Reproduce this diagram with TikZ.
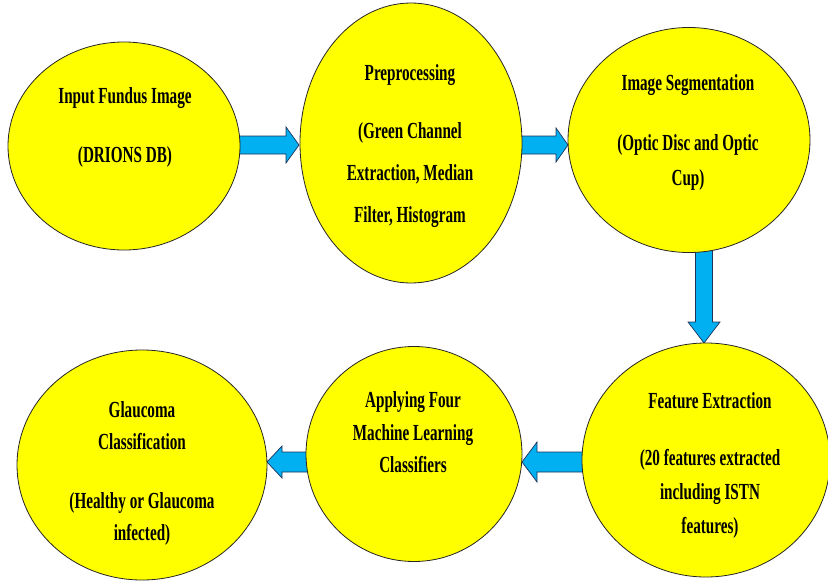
\documentclass[tikz,border=0pt]{standalone}
\usepackage{fontspec}
\setmainfont[FakeStretch=0.66]{Liberation Serif}
\usetikzlibrary{shapes.geometric,calc,backgrounds}
\definecolor{ellfill}{RGB}{255,255,0}
\definecolor{arrfill}{RGB}{0,176,240}
\definecolor{arrline}{RGB}{30,50,90}
\newcommand{\blockarr}[5]{%
  \coordinate (bh) at ($(#2)!#5!(#1)$);
  \path[barrow] ($(#1)!#3!90:(#2)$) -- ($(bh)!#3!90:(#2)$) -- ($(bh)!#4!90:(#2)$) -- (#2) -- ($(bh)!#4!-90:(#2)$) -- ($(bh)!#3!-90:(#2)$) -- ($(#1)!#3!-90:(#2)$) -- cycle;}
\begin{document}
\begin{tikzpicture}[x=1pt,y=-1pt,
  ell/.style={ellipse, draw=black!85, line width=0.8pt, fill=ellfill, inner sep=0pt, outer sep=0pt},
  txt/.style={align=center, inner sep=0pt, font=\fontsize{23}{#1}\selectfont\bfseries},
  barrow/.style={draw=arrline, fill=arrfill, line width=0.7pt, line join=miter}]
\useasboundingbox (0,0) rectangle (828,584);

\node[ell, minimum width=232pt, minimum height=208pt] (e1) at (124,146) {};
\node[ell, minimum width=222pt, minimum height=280pt] (e2) at (411,143) {};
\node[ell, minimum width=242pt, minimum height=225pt] (e3) at (689,140) {};
\node[ell, minimum width=250pt, minimum height=230pt] (e4) at (142,465) {};
\node[ell, minimum width=216pt, minimum height=215pt] (e5) at (414,454) {};
\node[ell, minimum width=248pt, minimum height=234pt] (e6) at (706,460) {};

\node[txt=33] (t1) at (125,127.5) {Input Fundus Image\\[26pt](DRIONS DB)};
\node[txt=42] (t2) at (410,146) {Preprocessing\\[16pt](Green Channel\\Extraction, Median\\Filter, Histogram};
\node[txt=35] (t3) at (688,132.5) {Image Segmentation\\[25pt](Optic Disc and Optic\\Cup)};
\node[txt=32] (t4) at (142,473.5) {Glaucoma\\Classification\\[27pt](Healthy or Glaucoma\\infected)};
\node[txt=32.5] (t5) at (413,432.5) {Applying Four\\Machine Learning\\Classifiers};
\node[txt=34] (t6) at (710,465.5) {Feature Extraction\\[23pt](20 features extracted\\including ISTN\\features)};

\coordinate (a1s) at ($(e1.east)+(-6,-1)$);
\coordinate (a1e) at ($(e1.east -| e2.west)+(-1,-1)$);
\coordinate (a2s) at ($(e2.east)+(-6,2)$);
\coordinate (a2e) at ($(e2.east -| e3.west)+(0,2)$);
\coordinate (a3s) at ($(e6.north |- e3.south)+(-2,-6)$);
\coordinate (a3e) at ($(e6.north)+(-2,0)$);
\coordinate (a4s) at ($(e6.west)+(6,2)$);
\coordinate (a4e) at ($(e6.west -| e5.east)+(0,2)$);
\coordinate (a5s) at ($(e5.west)+(6,8)$);
\coordinate (a5e) at ($(e5.west -| e4.east)+(0,8)$);

\begin{pgfonlayer}{background}
\fill[white] (0,0) rectangle (828,584);
\blockarr{a1s}{a1e}{9pt}{18pt}{13pt}
\blockarr{a2s}{a2e}{9pt}{17pt}{12pt}
\blockarr{a3s}{a3e}{8.5pt}{16pt}{21pt}
\blockarr{a4s}{a4e}{10pt}{20pt}{15pt}
\blockarr{a5s}{a5e}{10pt}{16pt}{15pt}
\end{pgfonlayer}
\end{tikzpicture}
\end{document}
